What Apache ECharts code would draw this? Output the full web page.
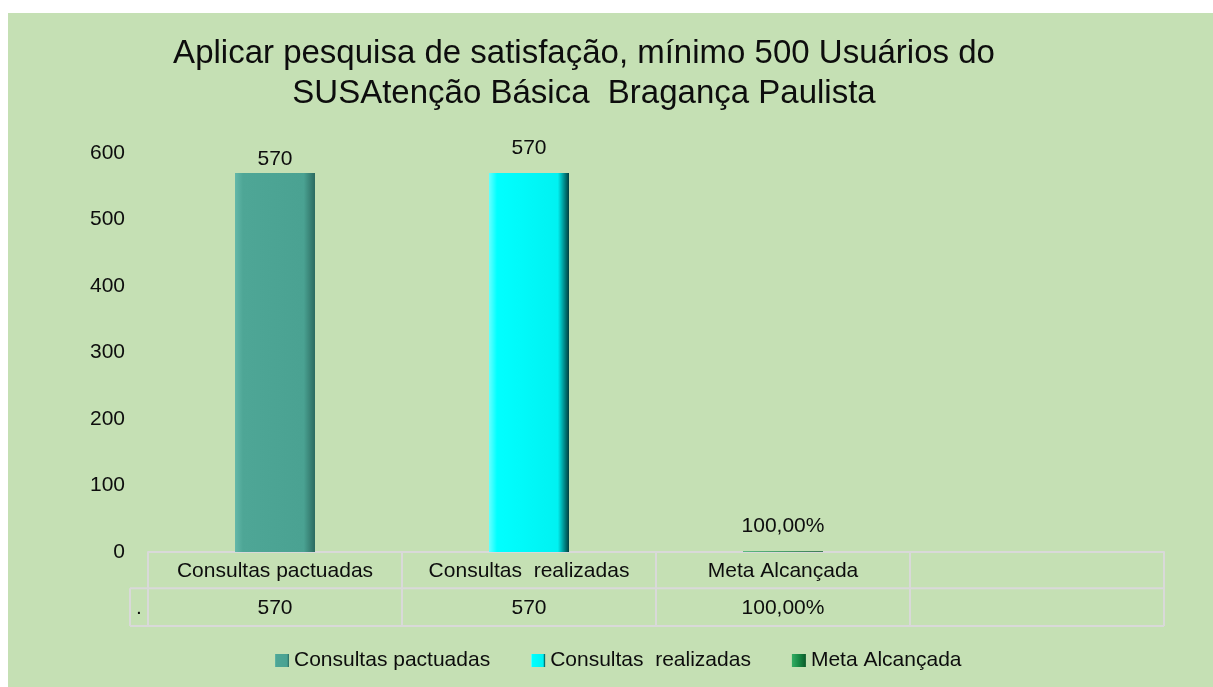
<!DOCTYPE html>
<html>
<head>
<meta charset="utf-8">
<script src="https://cdn.jsdelivr.net/npm/echarts@6/dist/echarts.min.js"></script>
<style>
  html, body { margin: 0; padding: 0; background: #ffffff; }
  #grafico { position: absolute; left: 8px; top: 13px; width: 1205px; height: 674px; background: #c5e0b4; }
</style>
</head>
<body>
<div id="grafico"></div>
<script>
// datos del grafico
const categorias = ['Consultas pactuadas', 'Consultas  realizadas', 'Meta Alcançada', ''];
const nombresSeries = ['Consultas pactuadas', 'Consultas  realizadas', 'Meta Alcançada'];
const valores = [570, 570, 1];
const etiquetasValor = ['570', '570', '100,00%'];
const etiquetaFila = '.';
const ejeYMin = 0;
const ejeYMax = 600;
const ejeYPaso = 100;

const fuente = '"Liberation Sans", Arial, sans-serif';
const colorTexto = '#0d0d0d';
const colorTabla = '#d9d9d9';

// geometria (espacio del div)
const gridLeft = 140;
const gridWidth = 1016;
const gridTop = 140;
const gridBottom = 135;
const anchoCat = gridWidth / categorias.length;
const filaY = [538.7, 575.3, 613];

const colores = [
    new echarts.graphic.LinearGradient(0, 0, 1, 0, [
        { offset: 0, color: '#63b8a9' }, { offset: 0.1, color: '#4ea696' },
        { offset: 0.86, color: '#4aa292' }, { offset: 1, color: '#2c6a60' }
    ]),
    new echarts.graphic.LinearGradient(0, 0, 1, 0, [
        { offset: 0, color: '#66ffff' }, { offset: 0.1, color: '#00ffff' },
        { offset: 0.86, color: '#00f2f2' }, { offset: 1, color: '#003f3f' }
    ]),
    new echarts.graphic.LinearGradient(0, 0, 1, 0, [
        { offset: 0, color: '#33ad64' }, { offset: 0.5, color: '#178a45' },
        { offset: 1, color: '#0b5a2a' }
    ])
];
const distanciaEtiqueta = [3, 14, 15];

let series = nombresSeries.map((nombre, i) => ({
    name: nombre,
    type: 'bar',
    stack: 'total',
    barWidth: 80,
    data: categorias.map((c, j) => (j === i ? valores[i] : '-')),
    itemStyle: { color: colores[i] },
    label: {
        show: true,
        position: 'top',
        distance: distanciaEtiqueta[i],
        formatter: () => etiquetasValor[i],
        fontFamily: fuente,
        fontSize: 21,
        color: colorTexto
    }
}));

// tabla de datos debajo del eje
let graficos = [];
let xIzq = gridLeft - 18;
let xDer = gridLeft + gridWidth;
graficos.push({ type: 'line', shape: { x1: xIzq, y1: filaY[1], x2: xDer, y2: filaY[1] }, style: { stroke: colorTabla, lineWidth: 2 } });
graficos.push({ type: 'line', shape: { x1: xIzq, y1: filaY[2], x2: xDer, y2: filaY[2] }, style: { stroke: colorTabla, lineWidth: 2 } });
graficos.push({ type: 'line', shape: { x1: xIzq, y1: filaY[1], x2: xIzq, y2: filaY[2] }, style: { stroke: colorTabla, lineWidth: 2 } });
for (let k = 0; k <= categorias.length; k++) {
    let x = gridLeft + k * anchoCat;
    graficos.push({ type: 'line', shape: { x1: x, y1: filaY[0], x2: x, y2: filaY[2] }, style: { stroke: colorTabla, lineWidth: 2 } });
}
graficos.push({
    type: 'text', x: xIzq + 9, y: (filaY[1] + filaY[2]) / 2 + 1,
    style: { text: etiquetaFila, fontFamily: fuente, fontSize: 21, fill: colorTexto, align: 'center', verticalAlign: 'middle' }
});
etiquetasValor.forEach((t, k) => {
    graficos.push({
        type: 'text', x: gridLeft + (k + 0.5) * anchoCat, y: (filaY[1] + filaY[2]) / 2 + 1,
        style: { text: t, fontFamily: fuente, fontSize: 21, fill: colorTexto, align: 'center', verticalAlign: 'middle' }
    });
});

let myChart = echarts.init(document.getElementById('grafico'));
let options = {
    animation: false,
    title: {
        text: 'Aplicar pesquisa de satisfação, mínimo 500 Usuários do\nSUSAtenção Básica  Bragança Paulista',
        left: 576,
        top: 21,
        padding: 0,
        textAlign: 'center',
        textStyle: { fontFamily: fuente, fontSize: 33, fontWeight: 'normal', color: colorTexto, lineHeight: 40 }
    },
    legend: {
        left: 262,
        top: 632,
        itemWidth: 14,
        itemHeight: 13,
        itemGap: 41,
        icon: 'rect',
        data: nombresSeries,
        textStyle: { fontFamily: fuente, fontSize: 21, color: colorTexto, padding: [0, 0, 0, 0] }
    },
    grid: { left: gridLeft, width: gridWidth, top: gridTop, bottom: gridBottom, containLabel: false },
    xAxis: {
        type: 'category',
        data: categorias,
        axisLine: { show: true, lineStyle: { color: colorTabla, width: 2 } },
        axisTick: { show: false },
        axisLabel: { fontFamily: fuente, fontSize: 21, color: colorTexto, margin: 9, interval: 0 }
    },
    yAxis: {
        type: 'value',
        min: ejeYMin,
        max: ejeYMax,
        interval: ejeYPaso,
        axisLine: { show: false },
        axisTick: { show: false },
        splitLine: { show: false },
        axisLabel: { fontFamily: fuente, fontSize: 21, color: colorTexto, margin: 23 }
    },
    series: series,
    graphic: graficos
};
myChart.setOption(options);
</script>
</body>
</html>
